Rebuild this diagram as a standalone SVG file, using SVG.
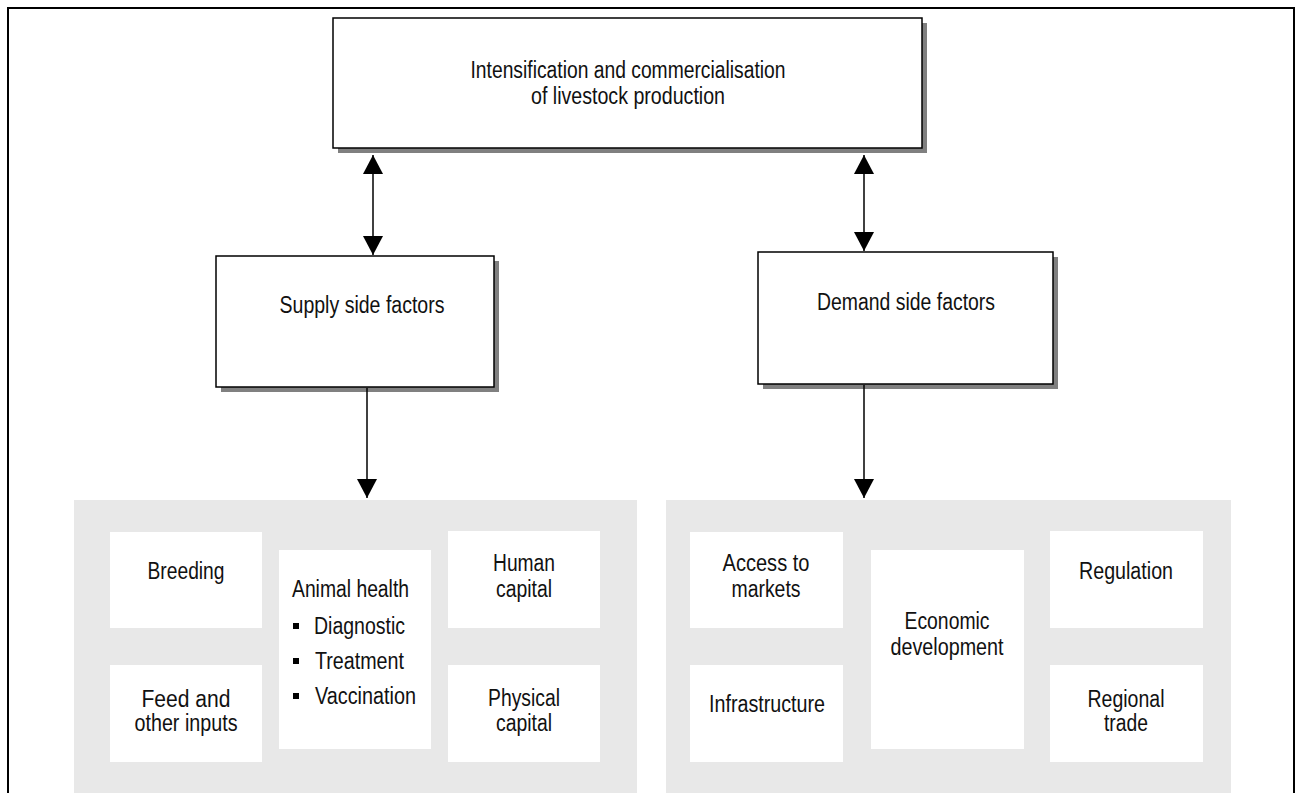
<svg xmlns="http://www.w3.org/2000/svg" width="1301" height="793" viewBox="0 0 1301 793">
  <defs>
    <style>
      text { font-family: "Liberation Sans", Arial, sans-serif; font-size: 23px; fill: #111; }
      .c { text-anchor: middle; }
      .box { fill: #fff; stroke: #000; stroke-width: 1.5; }
      .shadow { fill: #808080; }
      .panel { fill: #e8e8e8; }
      .inner { fill: #fff; }
      .conn { stroke: #000; stroke-width: 1.5; fill: none; }
    </style>
    <marker id="ah" markerUnits="userSpaceOnUse" markerWidth="20" markerHeight="20" refX="19" refY="10" orient="auto-start-reverse" viewBox="0 0 20 20">
      <path d="M0,0 L19,10 L0,20 Z" fill="#000"/>
    </marker>
  </defs>

  <rect x="0" y="0" width="1301" height="793" fill="#fff"/>
  <path d="M8,800 V8 H1294 V800" fill="none" stroke="#000" stroke-width="2"/>

  <g id="top">
    <rect class="shadow" x="338" y="23" width="589" height="130"/>
    <rect class="box" x="333" y="18" width="589" height="130"/>
    <text class="c" x="628" y="78" textLength="315" lengthAdjust="spacingAndGlyphs">Intensification and commercialisation</text>
    <text class="c" x="628" y="104" textLength="194" lengthAdjust="spacingAndGlyphs">of livestock production</text>
  </g>

  <g id="supply">
    <rect class="shadow" x="221" y="261" width="278" height="131"/>
    <rect class="box" x="216" y="256" width="278" height="131"/>
    <text class="c" x="362" y="313" textLength="165" lengthAdjust="spacingAndGlyphs">Supply side factors</text>
  </g>

  <g id="demand">
    <rect class="shadow" x="763" y="257" width="295" height="132"/>
    <rect class="box" x="758" y="252" width="295" height="132"/>
    <text class="c" x="906" y="310" textLength="178" lengthAdjust="spacingAndGlyphs">Demand side factors</text>
  </g>

  <g id="connectors">
    <line class="conn" x1="373" y1="155" x2="373" y2="255" marker-start="url(#ah)" marker-end="url(#ah)"/>
    <line class="conn" x1="864" y1="155" x2="864" y2="251" marker-start="url(#ah)" marker-end="url(#ah)"/>
    <line class="conn" x1="367" y1="388" x2="367" y2="498" marker-end="url(#ah)"/>
    <line class="conn" x1="864" y1="385" x2="864" y2="498" marker-end="url(#ah)"/>
  </g>

  <g id="supply-panel">
    <rect class="panel" x="74" y="500" width="563" height="300"/>
  </g>
  <g id="demand-panel">
    <rect class="panel" x="666" y="500" width="565" height="300"/>
  </g>

  <g id="breeding">
    <rect class="inner" x="110" y="532" width="152" height="96"/>
    <text class="c" x="186" y="579" textLength="77" lengthAdjust="spacingAndGlyphs">Breeding</text>
  </g>
  <g id="animal-health">
    <rect class="inner" x="279" y="550" width="152" height="199"/>
    <text x="292" y="597" textLength="117" lengthAdjust="spacingAndGlyphs">Animal health</text>
    <rect x="293" y="623" width="6" height="6" fill="#000"/>
    <text x="314" y="634" textLength="91" lengthAdjust="spacingAndGlyphs">Diagnostic</text>
    <rect x="293" y="658" width="6" height="6" fill="#000"/>
    <text x="315" y="669" textLength="89" lengthAdjust="spacingAndGlyphs">Treatment</text>
    <rect x="293" y="693" width="6" height="6" fill="#000"/>
    <text x="315" y="704" textLength="101" lengthAdjust="spacingAndGlyphs">Vaccination</text>
  </g>
  <g id="human-capital">
    <rect class="inner" x="448" y="531" width="152" height="97"/>
    <text class="c" x="524" y="571" textLength="62" lengthAdjust="spacingAndGlyphs">Human</text>
    <text class="c" x="524" y="597" textLength="56" lengthAdjust="spacingAndGlyphs">capital</text>
  </g>
  <g id="feed">
    <rect class="inner" x="110" y="665" width="152" height="97"/>
    <text class="c" x="186" y="707" textLength="89" lengthAdjust="spacingAndGlyphs">Feed and</text>
    <text class="c" x="186" y="731" textLength="103" lengthAdjust="spacingAndGlyphs">other inputs</text>
  </g>
  <g id="physical-capital">
    <rect class="inner" x="448" y="665" width="152" height="97"/>
    <text class="c" x="524" y="706" textLength="72" lengthAdjust="spacingAndGlyphs">Physical</text>
    <text class="c" x="524" y="731" textLength="56" lengthAdjust="spacingAndGlyphs">capital</text>
  </g>

  <g id="access">
    <rect class="inner" x="690" y="532" width="153" height="96"/>
    <text class="c" x="766" y="571" textLength="87" lengthAdjust="spacingAndGlyphs">Access to</text>
    <text class="c" x="766" y="597" textLength="69" lengthAdjust="spacingAndGlyphs">markets</text>
  </g>
  <g id="economic">
    <rect class="inner" x="871" y="550" width="153" height="199"/>
    <text class="c" x="947" y="629" textLength="85" lengthAdjust="spacingAndGlyphs">Economic</text>
    <text class="c" x="947" y="655" textLength="113" lengthAdjust="spacingAndGlyphs">development</text>
  </g>
  <g id="regulation">
    <rect class="inner" x="1050" y="531" width="153" height="97"/>
    <text class="c" x="1126" y="579" textLength="94" lengthAdjust="spacingAndGlyphs">Regulation</text>
  </g>
  <g id="infrastructure">
    <rect class="inner" x="690" y="665" width="153" height="97"/>
    <text class="c" x="767" y="712" textLength="116" lengthAdjust="spacingAndGlyphs">Infrastructure</text>
  </g>
  <g id="regional-trade">
    <rect class="inner" x="1050" y="665" width="153" height="97"/>
    <text class="c" x="1126" y="707" textLength="77" lengthAdjust="spacingAndGlyphs">Regional</text>
    <text class="c" x="1126" y="731" textLength="44" lengthAdjust="spacingAndGlyphs">trade</text>
  </g>
</svg>
